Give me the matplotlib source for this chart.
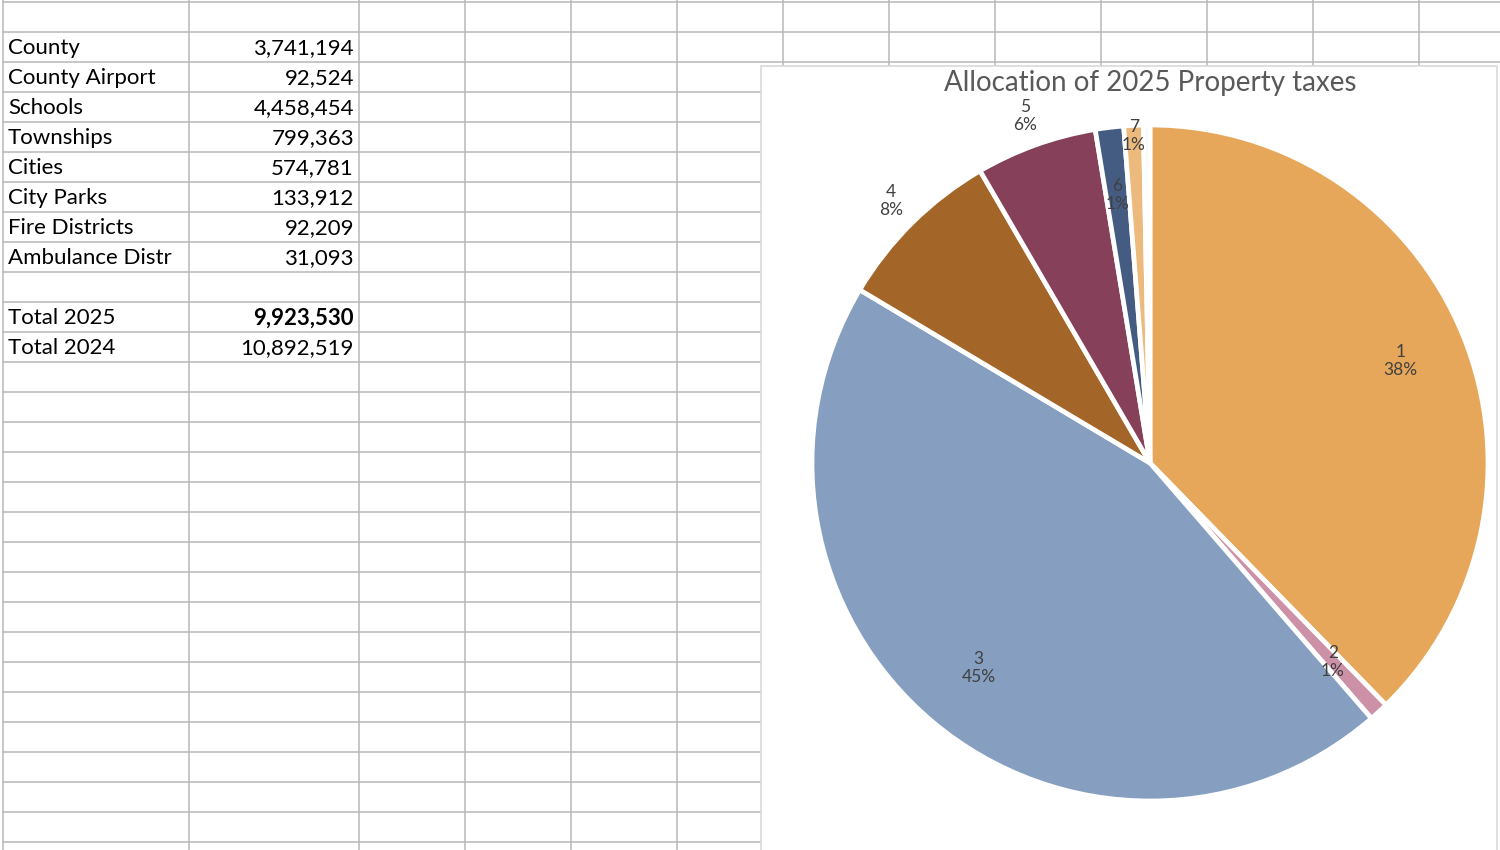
import matplotlib
matplotlib.use('Agg')
import matplotlib.pyplot as plt
from matplotlib.patches import Rectangle
import numpy as np

# data from the sheet
categories = ['County', 'County Airport', 'Schools', 'Townships', 'Cities',
              'City Parks', 'Fire Districts', 'Ambulance Distr']
amounts_2025 = [3741194, 92524, 4458454, 799363, 574781, 133912, 92209, 31093]
total_labels = ['Total 2025', 'Total 2024']
total_values = [9923530, 10892519]
slice_names = ['1', '2', '3', '4', '5', '6', '7', '']
slice_colors = ['#E6A75A', '#CC91A6', '#869FC0', '#A46628', '#86405A',
                '#455C82', '#EDBA7E', '#F7F7F7']
label_radius = [0.80, 0.80, 0.79, 1.09, 1.09, 0.80, 0.97, 1.0]

W, H = 1500, 850
plt.rcParams['font.family'] = ['Lato', 'DejaVu Sans']
fig = plt.figure(figsize=(W / 100, H / 100), dpi=100)

# spreadsheet background in pixel coordinates
bg = fig.add_axes([0, 0, 1, 1])
bg.set_xlim(0, W)
bg.set_ylim(H, 0)
bg.axis('off')

grid_col = '#b8b8b8'
chart_left, chart_top = 761, 66
full_cols = [3, 189, 359, 465, 571, 677]
top_cols = [783, 889, 995, 1101, 1207, 1313, 1419]
for x in full_cols:
    bg.plot([x, x], [0, H], color=grid_col, lw=1.1)
for x in top_cols:
    bg.plot([x, x], [0, chart_top], color=grid_col, lw=1.1)
for y in range(2, H, 30):
    xe = W if y < chart_top else chart_left
    bg.plot([3, xe], [y, y], color=grid_col, lw=1.1)

# table text
row_h = 30
fs = 16
for i, (name, val) in enumerate(zip(categories, amounts_2025)):
    yc = 32 + row_h * i + 16
    bg.text(8, yc, name, fontsize=fs, va='center', ha='left', color='black')
    bg.text(354, yc, f'{val:,}', fontsize=fs, va='center', ha='right', color='black')
for j, (name, val) in enumerate(zip(total_labels, total_values)):
    yc = 302 + row_h * j + 16
    bg.text(8, yc, name, fontsize=fs, va='center', ha='left', color='black')
    bg.text(354, yc, f'{val:,}', fontsize=fs, va='center', ha='right', color='black',
            fontweight='bold' if j == 0 else 'normal')

# chart box
bg.add_patch(Rectangle((chart_left, chart_top), W - 3 - chart_left, H - chart_top + 5,
                       facecolor='white', edgecolor='#d9d9d9', lw=1.2, zorder=5))
bg.text(1150, 83, 'Allocation of 2025 Property taxes', fontsize=20, ha='center',
        va='center', color='#595959', zorder=6)

# pie
cx, cy, r = 1150, 463, 338
ax = fig.add_axes([(cx - r) / W, (H - cy - r) / H, 2 * r / W, 2 * r / H])
wedges, _ = ax.pie(amounts_2025, colors=slice_colors, startangle=90, counterclock=False,
                   wedgeprops=dict(edgecolor='white', linewidth=3.4))
ax.set_xlim(-1, 1)
ax.set_ylim(-1, 1)
ax.set_aspect('equal')
ax.axis('off')

total = sum(amounts_2025)
for w, name, val, rr in zip(wedges, slice_names, amounts_2025, label_radius):
    if not name:
        continue
    ang = np.deg2rad((w.theta1 + w.theta2) / 2)
    pct = round(100 * val / total)
    ax.text(rr * np.cos(ang), rr * np.sin(ang), f'{name}\n{pct}%', ha='center',
            va='center', fontsize=12.5, color='#404040', linespacing=1.15)

fig.savefig('out.png', dpi=100)
